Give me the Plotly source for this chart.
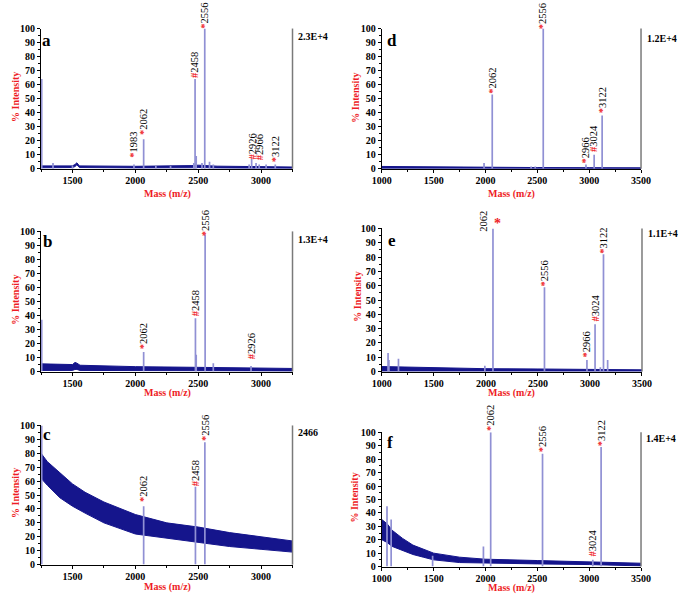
import plotly.graph_objects as go

W, H = 685, 601
FONT = "Liberation Serif"
RED = "#ee1c25"
NAVY = "#15158c"
PEAK = "#9090d4"

# tick labels
X_TICKS_LEFT = [1500, 2000, 2500, 3000]
X_TICKS_RIGHT = [1000, 1500, 2000, 2500, 3000, 3500]
Y_TICKS = [0, 10, 20, 30, 40, 50, 60, 70, 80, 90, 100]

# ---------------- panel a ----------------
A_base_x = [1250, 1260, 1500, 1520, 1535, 1555, 1700, 2000, 2450, 2500, 2650, 2900, 3250]
A_base_lo = [0.6, 0.6, 0.8, 1.5, 2.8, 0.8, 0.6, 0.5, 0.6, 0.8, 0.5, 0.5, 0.3]
A_base_hi = [2.0, 2.0, 2.0, 3.0, 4.2, 2.0, 1.8, 1.7, 2.2, 2.5, 1.8, 1.6, 1.2]
A_peak_x = [1255, 1345, 1500, 1989, 2066, 2163, 2280, 2465, 2475, 2484, 2530, 2552, 2590, 2620, 2905, 2925, 2960, 2985, 3040, 3113]
A_peak_y = [64, 4, 2, 3, 21, 2, 2, 4, 64, 9, 4, 100, 5, 3, 3, 7, 4, 3, 3, 3]
A_lab_text = ["1983", "2062", "2458", "2556", "2926", "2966", "3122"]
A_lab_x = [1989, 2066, 2475, 2552, 2930, 2988, 3113]
A_lab_y = [7, 23, 64, 99, 6, 5, 4]
A_lab_mark = ["*", "*", "#", "*", "#", "#", "*"]

# ---------------- panel b ----------------
B_base_x = [1250, 1500, 1520, 1535, 1560, 1750, 2000, 2500, 3000, 3250]
B_base_lo = [0.8, 0.8, 1.5, 1.5, 0.8, 0.7, 0.6, 0.5, 0.4, 0.3]
B_base_hi = [5.5, 5.0, 6.5, 6.0, 4.5, 4.0, 3.5, 3.0, 2.6, 2.2]
B_peak_x = [1255, 2066, 2478, 2484, 2555, 2620, 2920]
B_peak_y = [37, 14, 38, 12, 98, 6, 4]
B_lab_text = ["2062", "2458", "2556", "2926"]
B_lab_x = [2066, 2478, 2555, 2920]
B_lab_y = [15, 39, 96, 8]
B_lab_mark = ["*", "#", "*", "#"]

# ---------------- panel c ----------------
C_base_x = [1250, 1300, 1400, 1500, 1600, 1750, 2000, 2250, 2500, 2750, 3000, 3250]
C_base_lo = [62, 57, 48, 42, 37, 30, 22, 19, 16, 13, 11, 9]
C_base_hi = [80, 74, 66, 58, 52, 45, 36, 30, 27, 23, 20, 17]
C_peak_x = [1255, 2066, 2478, 2553]
C_peak_y = [100, 42, 56, 88]
C_lab_text = ["2062", "2458", "2556"]
C_lab_x = [2066, 2478, 2553]
C_lab_y = [44, 56, 88]
C_lab_mark = ["*", "#", "*"]

# ---------------- panel d ----------------
D_base_x = [1000, 1250, 1500, 2000, 2500, 3000, 3500]
D_base_lo = [0.3, 0.3, 0.3, 0.2, 0.2, 0.2, 0.2]
D_base_hi = [1.6, 1.4, 1.1, 0.9, 0.8, 0.7, 0.6]
D_peak_x = [1986, 2065, 2440, 2480, 2557, 2969, 3048, 3125]
D_peak_y = [4, 53, 1.5, 1.5, 100, 3, 10, 38]
D_lab_text = ["2062", "2556", "2966", "3024", "3122"]
D_lab_x = [2065, 2557, 2969, 3048, 3125]
D_lab_y = [53, 99, 3, 11, 39]
D_lab_mark = ["*", "*", "*", "#", "*"]

# ---------------- panel e ----------------
E_base_x = [1000, 1250, 1500, 2000, 2500, 3000, 3500]
E_base_lo = [0.3, 0.3, 0.3, 0.2, 0.2, 0.2, 0.2]
E_base_hi = [3.5, 3.0, 2.5, 2.0, 1.8, 1.5, 1.2]
E_peak_x = [1060, 1068, 1160, 1990, 2068, 2563, 2971, 3049, 3100, 3130, 3170]
E_peak_y = [13, 8, 9, 4, 100, 59, 8, 33, 3, 82, 8]
E_lab_text = ["2556", "2966", "3024", "3122"]
E_lab_x = [2563, 2971, 3049, 3130]
E_lab_y = [59, 9, 34, 82]
E_lab_mark = ["*", "*", "#", "*"]

# ---------------- panel f ----------------
F_base_x = [1000, 1050, 1100, 1200, 1300, 1400, 1500, 1750, 2000, 2500, 3000, 3500]
F_base_lo = [20, 18, 15, 12, 9, 7, 5, 3, 2.5, 2, 1.5, 0.5]
F_base_hi = [35, 32, 27, 21, 16, 13, 10, 7, 5.5, 4.5, 3.5, 2.5]
F_peak_x = [1050, 1090, 1490, 1980, 2050, 2550, 3035, 3115]
F_peak_y = [45, 35, 8, 15, 100, 84, 5, 89]
F_lab_text = ["2062", "2556", "3024", "3122"]
F_lab_x = [2050, 2550, 3035, 3115]
F_lab_y = [100, 84, 7, 89]
F_lab_mark = ["*", "*", "#", "*"]

panel_letters = ["a", "b", "c", "d", "e", "f"]
scale_texts = ["2.3E+4", "1.3E+4", "2466", "1.2E+4", "1.1E+4", "1.4E+4"]
x_ranges = [[1250, 3250], [1250, 3250], [1250, 3250], [1000, 3500], [1000, 3500], [1000, 3500]]
x_ticks = [X_TICKS_LEFT, X_TICKS_LEFT, X_TICKS_LEFT, X_TICKS_RIGHT, X_TICKS_RIGHT, X_TICKS_RIGHT]

panels = [
    (A_base_x, A_base_lo, A_base_hi, A_peak_x, A_peak_y, A_lab_text, A_lab_x, A_lab_y, A_lab_mark),
    (B_base_x, B_base_lo, B_base_hi, B_peak_x, B_peak_y, B_lab_text, B_lab_x, B_lab_y, B_lab_mark),
    (C_base_x, C_base_lo, C_base_hi, C_peak_x, C_peak_y, C_lab_text, C_lab_x, C_lab_y, C_lab_mark),
    (D_base_x, D_base_lo, D_base_hi, D_peak_x, D_peak_y, D_lab_text, D_lab_x, D_lab_y, D_lab_mark),
    (E_base_x, E_base_lo, E_base_hi, E_peak_x, E_peak_y, E_lab_text, E_lab_x, E_lab_y, E_lab_mark),
    (F_base_x, F_base_lo, F_base_hi, F_peak_x, F_peak_y, F_lab_text, F_lab_x, F_lab_y, F_lab_mark),
]

# pixel boxes (left, right, top, bottom)
boxes = [(32, 291, 23, 166), (32, 291, 230, 373), (32, 291, 428, 570),
         (383, 650, 23, 166), (383, 651, 227, 373), (383, 650, 435, 572)]
letter_pos = [(38, 35), (39, 240), (38, 437), (393, 35), (393, 239), (391, 445)]
scale_pos = [(295, 31), (295, 238), (295, 435), (654, 33), (655, 232), (653, 441)]
xtitle_pos = [(162, 192), (162, 395), (162, 593), (517, 192), (517, 395), (517, 594)]
ytitle_pos = [(5, 93), (5, 300), (5, 497), (356, 94), (357, 297), (355, 502)]


def px(x):
    return x / W


def py(y):
    return 1 - y / H


fig = go.Figure()
annotations = []
shapes = []
layout = {}

for i, (bx, blo, bhi, pkx, pky, lt, lx, ly, lm) in enumerate(panels):
    n = i + 1
    xa = "x" if n == 1 else f"x{n}"
    ya = "y" if n == 1 else f"y{n}"
    # noise band
    fig.add_trace(go.Scatter(x=bx, y=blo, mode="lines", line=dict(color=NAVY, width=1),
                             xaxis=xa, yaxis=ya, hoverinfo="skip"))
    fig.add_trace(go.Scatter(x=bx, y=bhi, mode="lines", line=dict(color=NAVY, width=1),
                             fill="tonexty", fillcolor=NAVY, xaxis=xa, yaxis=ya, hoverinfo="skip"))
    # peaks
    sx, sy = [], []
    for m, h in zip(pkx, pky):
        sx += [m, m, None]
        sy += [0, h, None]
    fig.add_trace(go.Scatter(x=sx, y=sy, mode="lines", line=dict(color=PEAK, width=1.7),
                             xaxis=xa, yaxis=ya, hoverinfo="skip"))
    # peak labels
    for t, xx, yy, mk in zip(lt, lx, ly, lm):
        annotations.append(dict(
            x=xx, y=yy, xref=xa, yref=ya, showarrow=False, textangle=-90,
            xanchor="center", yanchor="bottom", borderpad=0,
            text=f'<span style="color:{RED}"><b>{mk}</b></span>{t}',
            font=dict(family=FONT, size=10.5, color="black")))

    l, r, t_, b = boxes[i]
    layout[f"xaxis{n if n > 1 else ''}"] = dict(
        domain=[px(l), px(r)], anchor=ya, range=x_ranges[i],
        tickmode="array", tickvals=x_ticks[i], ticktext=[f"<b>{v}</b>" for v in x_ticks[i]],
        showline=True, linecolor="black", linewidth=1, ticks="outside", ticklen=3,
        tickcolor="black", showgrid=False, zeroline=False, ticklabelstandoff=-1,
        minor=dict(ticks="outside", ticklen=2, tickmode="linear", dtick=250, tick0=0,
                   tickcolor="black", showgrid=False),
        tickfont=dict(family=FONT, size=10, color="black"))
    layout[f"yaxis{n if n > 1 else ''}"] = dict(
        domain=[py(b), py(t_)], anchor=xa, range=[0, 100],
        tickmode="array", tickvals=Y_TICKS, ticktext=[f"<b>{v}</b>" for v in Y_TICKS],
        showline=True, linecolor="black", linewidth=1, ticks="outside", ticklen=3,
        tickcolor="black", showgrid=False, zeroline=False,
        minor=dict(ticks="outside", ticklen=2, tickmode="linear", dtick=5, tick0=0,
                   tickcolor="black", showgrid=False),
        tickfont=dict(family=FONT, size=10, color="black"))

    # right gray boundary line
    shapes.append(dict(type="line", xref=f"{xa} domain", yref=f"{ya} domain",
                       x0=1, x1=1, y0=0, y1=1, line=dict(color="#7a7a7a", width=1.5)))

    lx_, ly_ = letter_pos[i]
    annotations.append(dict(x=px(lx_), y=py(ly_), xref="paper", yref="paper", showarrow=False,
                            text=f"<b>{panel_letters[i]}</b>", xanchor="center", yanchor="middle",
                            font=dict(family=FONT, size=17, color="black")))
    sx_, sy_ = scale_pos[i]
    annotations.append(dict(x=px(sx_), y=py(sy_), xref="paper", yref="paper", showarrow=False,
                            text=f"<b>{scale_texts[i]}</b>", xanchor="left", yanchor="middle",
                            font=dict(family=FONT, size=10, color="black")))
    tx, ty = xtitle_pos[i]
    annotations.append(dict(x=px(tx), y=py(ty), xref="paper", yref="paper", showarrow=False,
                            text="<b>Mass (m/z)</b>", xanchor="center", yanchor="middle",
                            font=dict(family=FONT, size=10, color=RED)))
    yx, yy_ = ytitle_pos[i]
    annotations.append(dict(x=px(yx), y=py(yy_), xref="paper", yref="paper", showarrow=False,
                            text="<b>% Intensity</b>", textangle=-90, xanchor="center", yanchor="middle",
                            font=dict(family=FONT, size=10, color=RED)))

# special label of panel e (2062): number left of the peak, marker at its top
annotations.append(dict(x=2068, y=97, xref="x5", yref="y5", showarrow=False, textangle=-90,
                        xanchor="right", yanchor="bottom", xshift=-3, borderpad=0,
                        text="2062", font=dict(family=FONT, size=10.5, color="black")))
annotations.append(dict(x=2068, y=100, xref="x5", yref="y5", showarrow=False,
                        xanchor="left", yanchor="bottom", xshift=0, yshift=-4, borderpad=0,
                        text="<b>*</b>", font=dict(family=FONT, size=14, color=RED)))

fig.update_layout(
    width=W, height=H, autosize=False, showlegend=False,
    margin=dict(l=0, r=0, t=0, b=0),
    plot_bgcolor="white", paper_bgcolor="white",
    annotations=annotations, shapes=shapes, **layout)

fig.write_html("out.html", config={"displayModeBar": False},
               post_script="document.body.style.margin='0';document.body.style.overflow='hidden';")
